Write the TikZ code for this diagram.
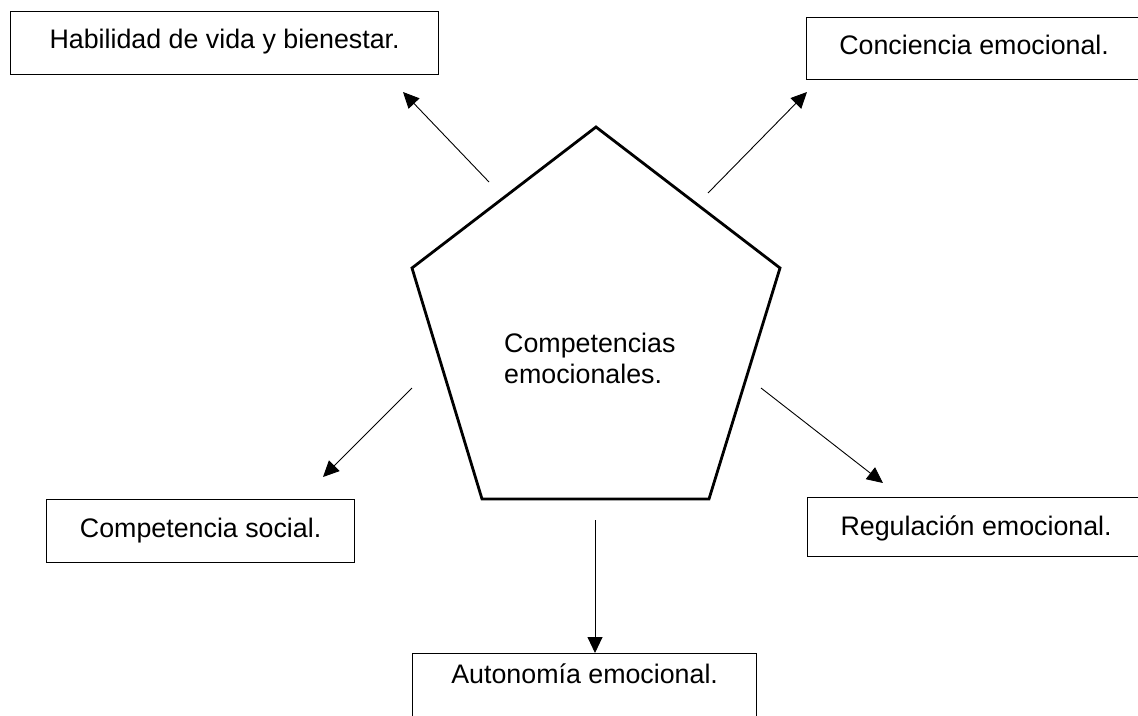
\documentclass[tikz,border=0pt]{standalone}
\usepackage{fontspec}
\setmainfont{Liberation Sans}
\usetikzlibrary{arrows.meta}
\begin{document}
\begin{tikzpicture}[x=1pt,y=-1pt,
  box/.style={draw=black, line width=1.3pt, inner sep=0pt, anchor=north west,
    font=\fontsize{26.8}{30}\selectfont, align=center},
  conn/.style={line width=0.9pt, -{Triangle[length=16pt,width=15pt]}},
  penta/.style={line width=2.8pt, line join=miter}]
\useasboundingbox (0,0) rectangle (1138,715);
% boxes
\node[box, minimum width=428pt, text height=37pt, text depth=26pt] (hab) at (10,11) {Habilidad de vida y bienestar.};
\node[box, minimum width=335pt, text height=37pt, text depth=25pt] (con) at (806,17) {Conciencia emocional.};
\node[box, minimum width=308pt, text height=38pt, text depth=25pt] (soc) at (46,499) {Competencia social.};
\node[box, minimum width=337pt, text height=38pt, text depth=21pt] (reg) at (807,497) {Regulación emocional.};
\node[box, minimum width=344pt, text height=30pt, text depth=42pt] (aut) at (412,653) {Autonomía emocional.};
% pentagon
\coordinate (p1) at (596,127);
\coordinate (p2) at (780,268);
\coordinate (p3) at (709,499);
\coordinate (p4) at (482,499);
\coordinate (p5) at (412,268);
\draw[penta] (p1) -- (p2) -- (p3) -- (p4) -- (p5) -- cycle;
\node[anchor=base west, inner sep=0pt, align=left, font=\fontsize{26.8}{31}\selectfont] (center) at (504,383) {Competencias\\emocionales.};
% arrow ends
\coordinate (s1) at (489,182); \coordinate (t1) at (403,92);
\coordinate (s2) at (708,193); \coordinate (t2) at (807,92);
\coordinate (s3) at (412,388); \coordinate (t3) at (323,477);
\coordinate (s4) at (761,388); \coordinate (t4) at (883,483);
\coordinate (s5) at (595,520); \coordinate (t5) at (595,653);
\draw[conn] (s1) -- (t1);
\draw[conn] (s2) -- (t2);
\draw[conn] (s3) -- (t3);
\draw[conn] (s4) -- (t4);
\draw[conn] (s5) -- (t5);
\end{tikzpicture}
\end{document}
